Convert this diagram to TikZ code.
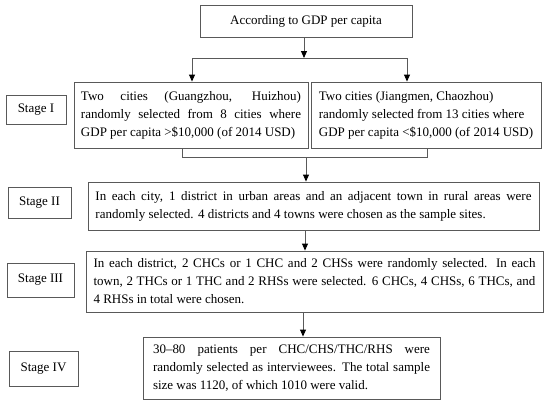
\documentclass[tikz,border=0pt]{standalone}
\usepackage{fontspec}
\setmainfont{Liberation Serif}
\usetikzlibrary{arrows.meta}
\begin{document}
\begin{tikzpicture}[x=1pt,y=-1pt,
  box/.style={draw=black!65, line width=0.9pt, inner xsep=0pt, inner ysep=0pt,
    font=\fontsize{13}{18}\selectfont, align=justify},
  lab/.style={draw=black!65, line width=0.9pt, inner sep=0pt,
    font=\fontsize{13}{14}\selectfont},
  conn/.style={draw=black!65, line width=0.9pt},
  arr/.style={conn, -{Triangle[width=6pt,length=7pt,color=black]}}]
\useasboundingbox (0,0) rectangle (550,407);

% main boxes
\node[box, minimum width=212, minimum height=32, align=center] (top) at (306,21)
  {According to GDP per capita};
\node[box, minimum width=234, minimum height=66, text width=220] (s1l) at (191,115)
  {Two cities (Guangzhou, Huizhou)\linebreak randomly selected from 8 cities where\linebreak GDP per capita >\$10,000 (of 2014 USD)};
\node[box, minimum width=230, minimum height=66, align=left] (s1r) at (426,115)
  {Two cities (Jiangmen, Chaozhou)\\ randomly selected from 13 cities where\\ GDP per capita <\$10,000 (of 2014 USD)};
\node[box, minimum width=451, minimum height=48, text width=436] (s2) at (313.5,206)
  {In each city, 1 district in urban areas and an adjacent town in rural areas were\linebreak randomly selected. 4 districts and 4 towns were chosen as the sample sites.};
\node[box, minimum width=457, minimum height=61, text width=442] (s3) at (314.5,281.5)
  {In each district, 2 CHCs or 1 CHC and 2 CHSs were randomly selected. In each\linebreak town, 2 THCs or 1 THC and 2 RHSs were selected. 6 CHCs, 4 CHSs, 6 THCs, and\linebreak 4 RHSs in total were chosen.};
\node[box, minimum width=297, minimum height=62, text width=277] (s4) at (291.5,368)
  {30--80 patients per CHC/CHS/THC/RHS were\linebreak randomly selected as interviewees. The total sample\linebreak size was 1120, of which 1010 were valid.};

% stage labels
\node[lab, minimum width=60, minimum height=29] (l1) at (36,109.5) {Stage I};
\node[lab, minimum width=63, minimum height=31] (l2) at (39.5,202.5) {Stage II};
\node[lab, minimum width=67, minimum height=34] (l3) at (40.5,280) {Stage III};
\node[lab, minimum width=69, minimum height=35] (l4) at (43.5,368.5) {Stage IV};

% connectors
\coordinate (j0) at (304,58);
\coordinate (jl) at (192,58);
\coordinate (jr) at (407,58);
\draw[arr] (j0 |- top.south) -- (j0);
\draw[conn] (jl) -- (jr);
\draw[arr] (jl) -- (jl |- s1l.north);
\draw[arr] (jr) -- (jr |- s1r.north);

\coordinate (ml) at (182,157);
\coordinate (mr) at (427,157);
\coordinate (m0) at (306,157);
\draw[conn] (ml |- s1l.south) -- (ml) -- (mr) -- (mr |- s1r.south);
\draw[arr] (m0) -- (m0 |- s2.north);

\coordinate (n0) at (305,0);
\draw[arr] (n0 |- s2.south) -- (n0 |- s3.north);
\coordinate (p0) at (303,0);
\draw[arr] (p0 |- s3.south) -- (p0 |- s4.north);
\end{tikzpicture}
\end{document}
